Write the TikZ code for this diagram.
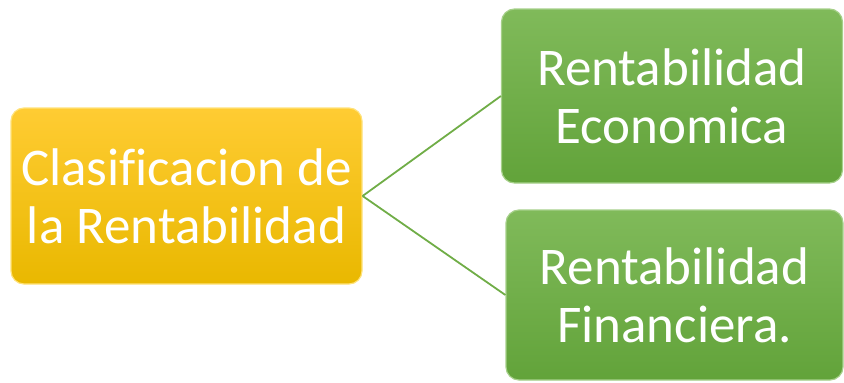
\documentclass[tikz,border=0pt]{standalone}
\usepackage{fontspec}
\setmainfont[Ligatures={NoCommon}]{Carlito}
\definecolor{ylt}{HTML}{FFCC33}
\definecolor{ydk}{HTML}{E9B800}
\definecolor{yed}{HTML}{FFE27A}
\definecolor{glt}{HTML}{80BA5A}
\definecolor{gdk}{HTML}{62A33A}
\definecolor{ged}{HTML}{A6D08A}
\definecolor{lnk}{HTML}{70AD47}
\begin{document}
\begin{tikzpicture}[x=1pt,y=-1pt,
  boxbase/.style={rounded corners=13pt, line width=1.2pt, text=white,
    font=\fontsize{53}{58}\selectfont, align=center, inner sep=0pt},
  ybox/.style={boxbase, top color=ylt, bottom color=ydk, draw=yed},
  gbox/.style={boxbase, top color=glt, bottom color=gdk, draw=ged},
  link/.style={draw=lnk, line width=1.8pt}]
\useasboundingbox (0,0) rectangle (844,383);
\node[ybox, minimum width=351pt, minimum height=176pt] (root) at (186.5,196) {Clasificacion de\\la Rentabilidad};
\node[gbox, minimum width=341pt, minimum height=174pt] (eco) at (672,96) {Rentabilidad\\Economica};
\node[gbox, minimum width=337pt, minimum height=170pt] (fin) at (674.5,295) {Rentabilidad\\Financiera.};
\draw[link] (root.east) -- (eco.west);
\draw[link] (root.east) -- (fin.west);
\end{tikzpicture}
\end{document}
